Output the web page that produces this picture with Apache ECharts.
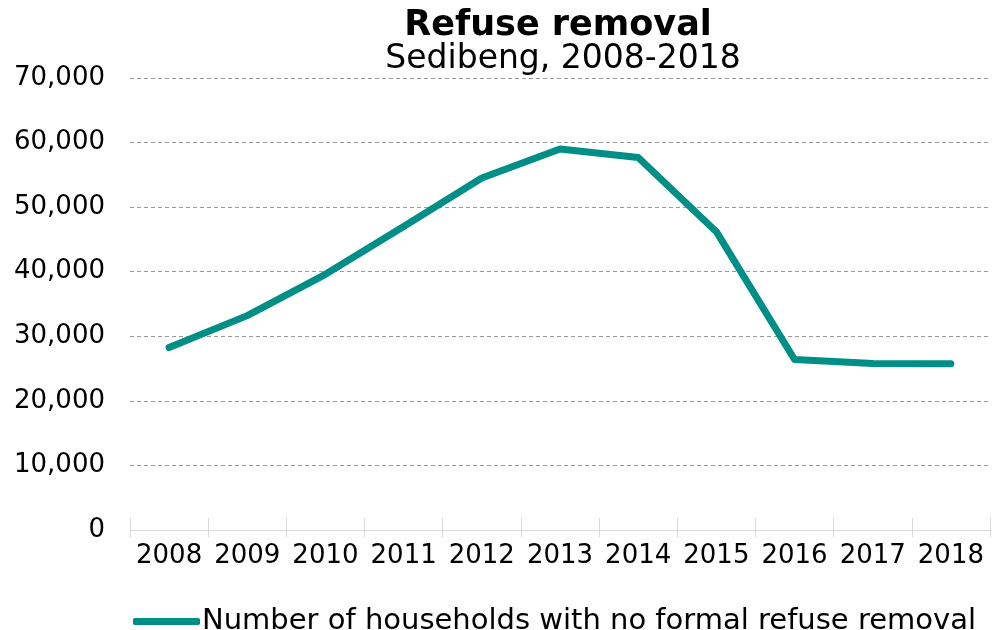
<!DOCTYPE html>
<html>
<head>
<meta charset="utf-8">
<title>Refuse removal</title>
<script src="https://cdn.jsdelivr.net/npm/echarts@6/dist/echarts.min.js"></script>
<style>
  html, body { margin: 0; padding: 0; background: #ffffff; }
  #chart { width: 1005px; height: 630px; }
</style>
</head>
<body>
<div id="chart"></div>
<script>
// Households without formal refuse removal, Sedibeng
const years = ['2008', '2009', '2010', '2011', '2012', '2013', '2014', '2015', '2016', '2017', '2018'];
const householdsNoRemoval = [28250, 33200, 39600, 47000, 54500, 59000, 57700, 46200, 26400, 25800, 25750];
const seriesName = 'Number of households with no formal refuse removal';
const titleText = 'Refuse removal';
const subtitleText = 'Sedibeng, 2008-2018';
const yMax = 70000;
const yStep = 10000;

const FONT = 'DejaVu Sans, Verdana, sans-serif';
const TEAL = '#008f87';

const chart = echarts.init(document.getElementById('chart'), null, { renderer: 'canvas' });

chart.setOption({
  animation: false,
  backgroundColor: '#ffffff',
  graphic: [
    {
      type: 'text', x: 558, y: 26,
      style: { text: titleText, fontFamily: FONT, fontWeight: 'bold', fontSize: 35,
               fill: '#000000', align: 'center', verticalAlign: 'middle' }
    },
    {
      type: 'text', x: 563, y: 59,
      style: { text: subtitleText, fontFamily: FONT, fontSize: 33,
               fill: '#000000', align: 'center', verticalAlign: 'middle' }
    }
  ],
  grid: { left: 130, right: 15, top: 78, bottom: 100, containLabel: false },
  legend: {
    left: 128, top: 602,
    icon: 'roundRect',
    itemWidth: 67, itemHeight: 7, itemGap: 0,
    textStyle: { fontFamily: FONT, fontSize: 29, color: '#000000', padding: [0, 0, 0, -3] },
    data: [seriesName]
  },
  xAxis: [
    {
      type: 'category',
      data: years,
      boundaryGap: true,
      axisLine: { show: true, lineStyle: { color: '#d9d9d9', width: 1 } },
      axisTick: { show: true, length: 7, lineStyle: { color: '#d9d9d9' } },
      axisLabel: { fontFamily: FONT, fontSize: 26, color: '#000000', margin: 13, interval: 0 },
      splitLine: { show: false }
    },
    {
      // upward part of the cross tick marks
      type: 'category',
      data: years,
      position: 'bottom',
      boundaryGap: true,
      axisLine: { show: false },
      axisTick: { show: true, inside: true, length: 12, lineStyle: { color: '#d9d9d9' } },
      axisLabel: { show: false },
      splitLine: { show: false }
    }
  ],
  yAxis: {
    type: 'value',
    min: 0, max: yMax, interval: yStep,
    axisLine: { show: false },
    axisTick: { show: false },
    axisLabel: {
      fontFamily: FONT, fontSize: 26, color: '#000000', margin: 25,
      formatter: v => v.toLocaleString('en-US')
    },
    splitLine: { show: true, lineStyle: { color: '#9a9a9a', type: [4, 3], width: 1 } }
  },
  series: [
    {
      name: seriesName,
      type: 'line',
      data: householdsNoRemoval,
      symbol: 'none',
      smooth: false,
      itemStyle: { color: TEAL },
      lineStyle: { color: TEAL, width: 7, cap: 'round', join: 'round' }
    }
  ]
});
</script>
</body>
</html>
